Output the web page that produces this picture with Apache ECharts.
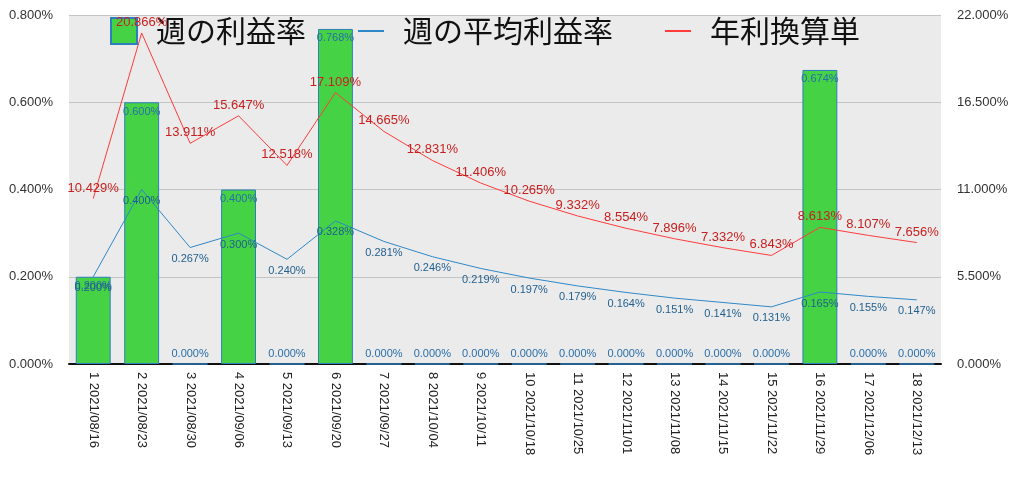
<!DOCTYPE html>
<html><head><meta charset="utf-8">
<script src="https://cdn.jsdelivr.net/npm/echarts@6/dist/echarts.min.js"></script>
<style>html,body{margin:0;padding:0;background:#fff}#c{width:1024px;height:482px}</style>
</head><body><div id="c"></div>
<script>
const categories = ["1 2021/08/16","2 2021/08/23","3 2021/08/30","4 2021/09/06","5 2021/09/13","6 2021/09/20","7 2021/09/27","8 2021/10/04","9 2021/10/11","10 2021/10/18","11 2021/10/25","12 2021/11/01","13 2021/11/08","14 2021/11/15","15 2021/11/22","16 2021/11/29","17 2021/12/06","18 2021/12/13"];
const weekly = [0.2,0.6,0,0.4,0,0.768,0,0,0,0,0,0,0,0,0,0.674,0,0];
const weeklyAvg = [0.2,0.4,0.267,0.3,0.24,0.328,0.281,0.246,0.219,0.197,0.179,0.164,0.151,0.141,0.131,0.165,0.155,0.147];
const annual = [10.429,20.866,13.911,15.647,12.518,17.109,14.665,12.831,11.406,10.265,9.332,8.554,7.896,7.332,6.843,8.613,8.107,7.656];
const seriesNames = ["週の利益率","週の平均利益率","年利換算単"];

const chart = echarts.init(document.getElementById('c'));
const font = '"Liberation Sans", Arial, sans-serif';
const fmt = v => v.toFixed(3) + '%';
const lineIcon = 'path://M0,0H13V1H0Z';
chart.setOption({
  animation:false,
  backgroundColor:'#fff',
  textStyle:{fontFamily:font},
  legend:{
    z:1,
    left:105, top:11, itemGap:52, itemWidth:26, itemHeight:26,
    textStyle:{fontSize:30, color:'#111', fontFamily:'"Noto Sans CJK JP", sans-serif', padding:[0,0,0,14]},
    data:[
      {name:seriesNames[0], icon:'rect'},
      {name:seriesNames[1], icon:lineIcon},
      {name:seriesNames[2], icon:lineIcon}
    ]
  },
  grid:{left:69, right:83, top:15, bottom:118},
  xAxis:{
    type:'category', data:categories,
    axisLine:{lineStyle:{color:'#111', width:2}},
    axisTick:{show:false},
    axisLabel:{rotate:-90, color:'#222', fontSize:13, margin:8, interval:0},
    splitArea:{show:false}
  },
  yAxis:[
    {type:'value', min:0, max:0.8, interval:0.2, position:'left',
     axisLabel:{formatter:v=>v.toFixed(3)+'%', color:'#333', fontSize:13, margin:16},
     axisLine:{show:false}, axisTick:{show:false},
     splitLine:{lineStyle:{color:'#c4c4c4', width:1}}},
    {type:'value', min:0, max:22, interval:5.5, position:'right',
     axisLabel:{formatter:v=>v.toFixed(3)+'%', color:'#333', fontSize:13, margin:16},
     axisLine:{show:false}, axisTick:{show:false}, splitLine:{show:false}}
  ],
  graphic:[{type:'rect', z:-1, shape:{x:69,y:15,width:872,height:349}, style:{fill:'#ebebeb'}}],
  series:[
    {name:seriesNames[0], type:'bar', yAxisIndex:0, barWidth:'72%', z:2,
     itemStyle:{color:'#45d345', borderColor:'#2e7dbd', borderWidth:1},
     data: weekly.map(v=>({value:v, label:{position: v===0?'top':'insideTop'}})),
     label:{show:true, formatter:p=>fmt(p.value), color:'#2a6ea8', fontSize:11, distance:4}},
    {name:seriesNames[1], type:'line', yAxisIndex:0, data:weeklyAvg, z:3,
     symbol:'circle', symbolSize:0.1, lineStyle:{color:'#2f88c8', width:1}, itemStyle:{color:'#2f88c8'},
     label:{show:true, position:'bottom', formatter:p=>fmt(p.value), color:'#1f5f8e', fontSize:11, distance:6}},
    {name:seriesNames[2], type:'line', yAxisIndex:1, data:annual, z:3,
     symbol:'circle', symbolSize:0.1, lineStyle:{color:'#ff3b3b', width:1}, itemStyle:{color:'#ff3b3b'},
     label:{show:true, position:'top', formatter:p=>fmt(p.value), color:'#c82020', fontSize:13, distance:4}}
  ]
});
</script></body></html>
